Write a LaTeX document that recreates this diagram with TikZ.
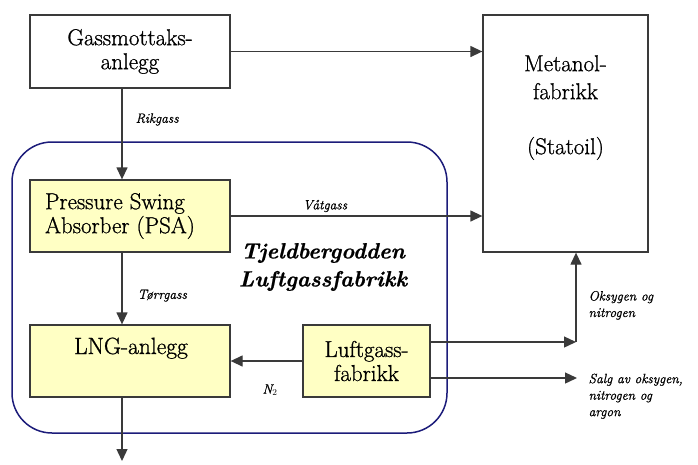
\documentclass[tikz,border=0pt]{standalone}
\usepackage{fontspec}
\setmainfont{Latin Modern Roman}[FakeBold=0.9]
\usetikzlibrary{arrows.meta}
\definecolor{boxline}{HTML}{3A3A3A}
\definecolor{boxfill}{HTML}{FFFFC4}
\definecolor{navyline}{HTML}{1C1C7A}
\tikzset{
  box/.style={draw=boxline, line width=1.3pt, inner sep=0pt, align=center,
    font=\fontsize{23}{24}\selectfont},
  ybox/.style={box, fill=boxfill},
  flow/.style={draw=boxline, line width=1.3pt,
    -{Triangle[length=12pt,width=11pt]}},
  lbl/.style={font=\fontsize{13.5}{16.5}\selectfont\itshape, inner sep=0pt,
    align=left, anchor=west},
  title/.style={font=\fontsize{22}{28}\selectfont\bfseries\itshape,
    align=center, inner sep=0pt}
}
\begin{document}
\begin{tikzpicture}[x=1pt, y=-1pt]
  \useasboundingbox (0,0) rectangle (698,464);

  % plant boundary
  \draw[navyline, line width=1.5pt, rounded corners=40pt]
    (12,142) rectangle (447,433);
  \node[title] (plant) at (323,267) {Tjeldbergodden\\Luftgassfabrikk};

  % units
  \node[box, minimum width=200pt, minimum height=73pt] (gass) at (130,51.5)
    {Gassmottaks-\\anlegg};
  \node[box, minimum width=165pt, minimum height=237pt] (met) at (565.5,133.5) {};
  \node[font=\fontsize{23}{28}\selectfont, align=center, anchor=north, inner sep=0pt]
    (mettxt) at (565.5,55) {Metanol-\\fabrikk\\[27pt](Statoil)};
  \node[ybox, minimum width=200pt, minimum height=72pt] (psa) at (130,216) {};
  \node[font=\fontsize{23}{24}\selectfont, align=left, inner sep=0pt]
    (psatxt) at (120,216) {Pressure Swing\\Absorber (PSA)};
  \node[ybox, minimum width=200pt, minimum height=72pt] (lng) at (130,361) {};
  \node[font=\fontsize{23.5}{24}\selectfont, anchor=base, inner sep=0pt]
    (lngtxt) at (131,354) {LNG-anlegg};
  \node[ybox, minimum width=127pt, minimum height=72pt] (luft) at (366.5,361)
    {Luftgass-\\fabrikk};

  % free ends
  \coordinate (lngout) at (122,461);
  \coordinate (oxn) at (576,342);
  \coordinate (sale) at (577,378);

  % streams (yshift works in page direction, i.e. positive is up)
  \draw[flow] (gass.east) -- (gass.east -| met.west);
  \draw[flow] ([xshift=-8pt]gass.south) -- ([xshift=-8pt]psa.north)
    node[lbl, pos=0.34, xshift=13pt] {Rikgass};
  \draw[flow] (psa.east) -- (psa.east -| met.west)
    node[lbl, pos=0.375, yshift=10pt, anchor=center] {Våtgass};
  \draw[flow] ([xshift=-8pt]psa.south) -- ([xshift=-8pt]lng.north)
    node[lbl, pos=0.6, xshift=15pt] {Tørrgass};
  \draw[flow] (luft.west) -- (lng.east)
    node[lbl, pos=0.45, yshift=-29pt, anchor=center] {N$_2$};
  \draw[flow] ([xshift=-8pt]lng.south) -- (lngout);
  \draw[flow] ([yshift=19pt]luft.east) -- (oxn);
  \draw[flow] (oxn) -- (oxn |- met.south)
    node[lbl, pos=0.41, xshift=12pt] {Oksygen og\\nitrogen};
  \draw[flow] ([yshift=-17pt]luft.east) -- (sale)
    node[lbl, pos=1, xshift=11pt, anchor=north west, yshift=5pt]
      {Salg av oksygen,\\nitrogen og\\argon};
\end{tikzpicture}
\end{document}
